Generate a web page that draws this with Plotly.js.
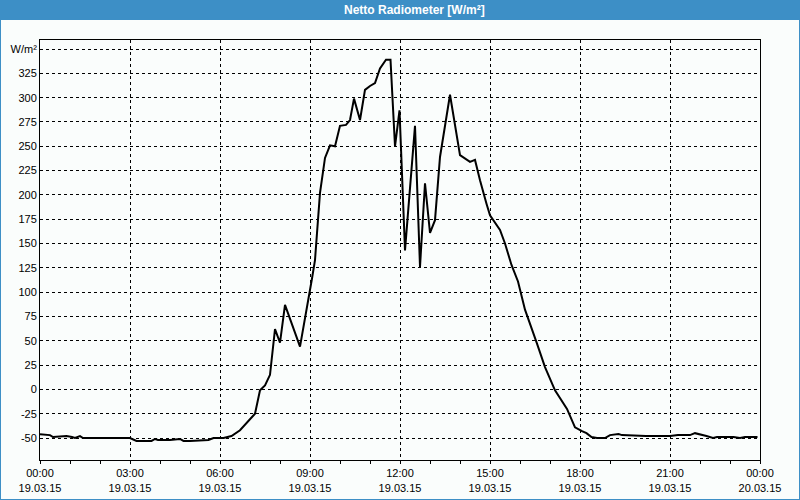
<!DOCTYPE html>
<html>
<head>
<meta charset="utf-8">
<script src="https://cdn.plot.ly/plotly-3.0.1.min.js"></script>
<style>
html,body{margin:0;padding:0;background:#fafdfc;}
#chart{width:800px;height:500px;}
</style>
</head>
<body>
<div id="chart"></div>
<script>
// Time of day (19.03.15) and net radiation values in W/m²
const times = ["00:00","00:20","00:26","00:53","01:04","01:10","01:20","01:26","02:00","02:30",
  "03:00","03:13","03:43","03:50","03:56","04:20","04:40","04:47","05:00","05:37",
  "05:47","06:07","06:23","06:40","07:10","07:20","07:30","07:40","07:50","08:00",
  "08:10","08:40","09:00","09:04","09:10","09:13","09:20","09:30","09:40","09:50",
  "10:00","10:12","10:20","10:28","10:40","10:50","11:00","11:10","11:20","11:32",
  "11:41","11:50","11:59","12:10","12:30","12:40","12:50","13:00","13:10","13:20",
  "13:40","14:00","14:20","14:30","14:40","14:53","15:00","15:20","15:30","15:43",
  "15:56","16:10","16:20","16:34","16:50","17:10","17:34","17:50","18:04","18:13",
  "18:23","18:34","18:50","19:00","19:17","19:24","20:12","21:00","21:16","21:40",
  "21:50","22:00","22:13","22:26","22:34","23:07","23:20","23:30","23:55"];
const values = [-46,-47,-49,-48,-49,-50,-48,-50,-50,-50,
  -50,-53,-53,-51,-52,-52,-51,-53,-53,-52,
  -50,-50,-48,-42,-25,-1,4,15,62,48,
  87,44,99,114,133,153,202,238,251,250,
  271,272,277,299,277,308,312,315,330,339,
  339,250,287,143,271,126,212,161,174,239,
  303,241,234,236,215,191,179,164,150,128,
  111,82,68,47,23,-1,-20,-39,-43,-45,
  -49,-50,-50,-47,-46,-47,-48,-48,-47,-47,
  -45,-46,-48,-50,-49,-49,-50,-49,-49];

const xTickVals = ["2015-03-19 00:00","2015-03-19 03:00","2015-03-19 06:00","2015-03-19 09:00",
  "2015-03-19 12:00","2015-03-19 15:00","2015-03-19 18:00","2015-03-19 21:00","2015-03-20 00:00"];
const xTickText = ["00:00<br>19.03.15","03:00<br>19.03.15","06:00<br>19.03.15","09:00<br>19.03.15",
  "12:00<br>19.03.15","15:00<br>19.03.15","18:00<br>19.03.15","21:00<br>19.03.15","00:00<br>20.03.15"];
const yTickVals = [-50,-25,0,25,50,75,100,125,150,175,200,225,250,275,300,325,350];
const yTickText = ["-50","-25","0","25","50","75","100","125","150","175","200","225","250","275","300","325","W/m²"];
const chartTitle = "Netto Radiometer [W/m²]";

const x = times.map(t => "2015-03-19 " + t);

const bg = "#fafdfc";
const blue = "#3d8fc6";
const font = {family: "Liberation Sans, Arial, sans-serif", size: 11, color: "#000"};
const mx = 40/720, my = 40/420;

Plotly.newPlot("chart", [{
  x: x, y: values, type: "scatter", mode: "lines",
  line: {color: "#000", width: 2}, hoverinfo: "skip"
}], {
  width: 800, height: 500,
  margin: {l: 40, r: 40, t: 40, b: 40},
  paper_bgcolor: bg, plot_bgcolor: bg,
  font: font, showlegend: false,
  xaxis: {
    type: "date",
    range: ["2015-03-19 00:00", "2015-03-20 00:00"],
    tickvals: xTickVals, ticktext: xTickText,
    showgrid: true, gridcolor: "#000", gridwidth: 1, griddash: "3px,3px",
    showline: true, linecolor: "#000", linewidth: 1, mirror: true,
    ticks: "outside", ticklen: 3, tickcolor: "#000",
    minor: {dtick: 3600000, ticks: "outside", ticklen: 3, tickcolor: "#000", showgrid: false},
    zeroline: false, tickfont: font
  },
  yaxis: {
    range: [-72.6, 359.3],
    tickvals: yTickVals, ticktext: yTickText,
    showgrid: true, gridcolor: "#000", gridwidth: 1, griddash: "3px,3px",
    showline: true, linecolor: "#000", linewidth: 1, mirror: true,
    ticks: "", zeroline: false, tickfont: font
  },
  shapes: [
    {type: "rect", xref: "paper", yref: "paper", x0: -mx, x1: 1 + mx, y0: 1 + 20/420, y1: 1 + my,
     fillcolor: blue, line: {width: 0}},
    {type: "rect", xref: "paper", yref: "paper", x0: -mx, x1: 1 + mx, y0: -my, y1: 1 + my,
     fillcolor: "rgba(0,0,0,0)", line: {color: blue, width: 2}}
  ],
  annotations: [{
    xref: "paper", yref: "paper", x: (414.5 - 40)/720, y: 1 + 30/420,
    xanchor: "center", yanchor: "middle", showarrow: false,
    text: "<b>" + chartTitle + "</b>",
    font: {family: "Liberation Sans, Arial, sans-serif", size: 12, color: "#fff"}
  }]
}, {staticPlot: true});
</script>
</body>
</html>
